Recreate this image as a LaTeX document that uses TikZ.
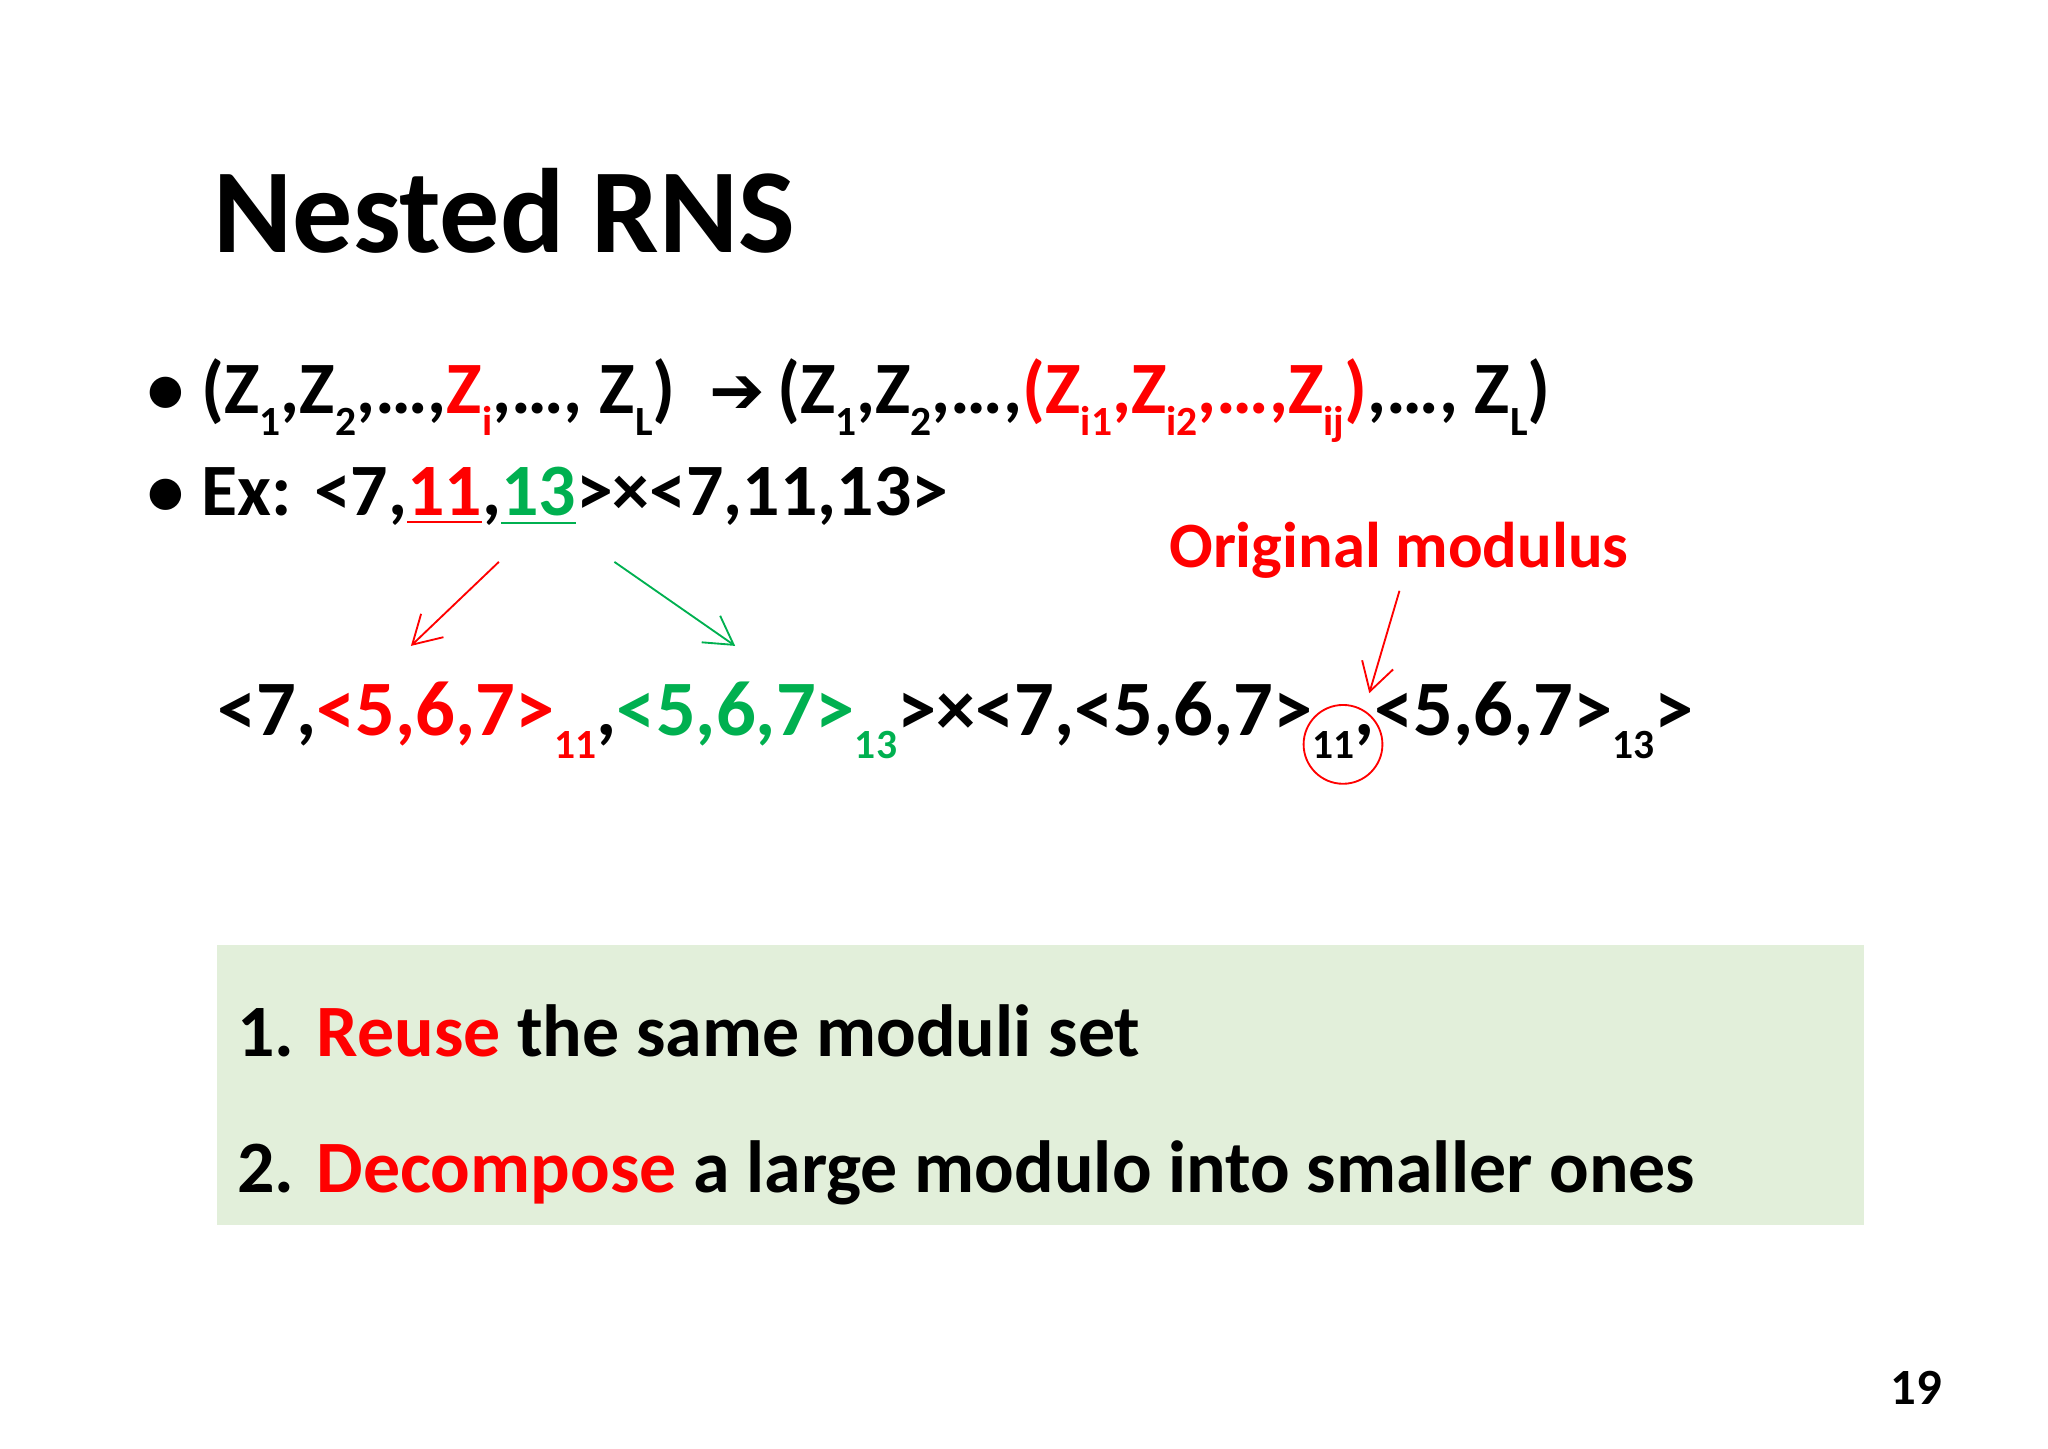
\documentclass[tikz,border=0pt]{standalone}
\usepackage{fontspec}
\setmainfont{Carlito}
\newfontfamily\dv{DejaVu Sans}
\usetikzlibrary{arrows.meta}
\definecolor{myred}{RGB}{255,0,0}
\definecolor{mygreen}{RGB}{0,176,80}
\definecolor{boxgreen}{RGB}{226,239,218}
\newcommand\sbs[1]{\raisebox{-0.6ex}{\small #1}}
\begin{document}
\begin{tikzpicture}[x=0.01cm,y=-0.01cm,
  txt/.style={anchor=base west,inner sep=0pt,font=\fontsize{16}{19}\selectfont\bfseries},
  big/.style={anchor=base west,inner sep=0pt,font=\fontsize{17}{21}\selectfont\bfseries},
  arr/.style={-{Straight Barb[length=6pt,width=7pt]}}]
\useasboundingbox (0,0) rectangle (1560,1103);
\fill[boxgreen] (165,720) rectangle (1420,933);
\node[anchor=base west,inner sep=0pt,font=\fontsize{26}{30}\selectfont\bfseries] (title) at (162,192) {Nested RNS};
\node[txt] (b1) at (112,315) {\textbullet\ (Z\sbs{1},Z\sbs{2},…,\textcolor{myred}{Z\sbs{i}},…, Z\sbs{L})\ \ {\dv\bfseries\Large ➔}\,(Z\sbs{1},Z\sbs{2},…,\textcolor{myred}{(Z\sbs{i1},Z\sbs{i2},…,Z\sbs{ij})},…, Z\sbs{L})};
\node[txt] (b2) at (112,393) {\textbullet\ Ex: <7,\textcolor{myred}{\underline{11}},\textcolor{mygreen}{\underline{13}}>×<7,11,13>};
\node[txt,text=myred,font=\fontsize{14}{17}\selectfont\bfseries] (om) at (890,432) {Original modulus};
\node[big] (l2) at (165,560) {<7,\textcolor{myred}{<5,6,7>\sbs{11}},\textcolor{mygreen}{<5,6,7>\sbs{13}}>×<7,<5,6,7>\sbs{11},<5,6,7>\sbs{13}>};
\coordinate (ra) at (380,428); \coordinate (rb) at (313,492);
\coordinate (ga) at (468,428); \coordinate (gb) at (560,492);
\coordinate (oa) at (1066,450); \coordinate (ob) at (1043,528);
\draw[myred,arr] (ra) -- (rb);
\draw[mygreen,arr] (ga) -- (gb);
\draw[myred,arr] (oa) -- (ob);
\node[draw=myred,circle,minimum size=0.6cm,inner sep=0pt] (circ) at (1023,567) {};
\node[txt] (i1) at (180,805) {1. \textcolor{myred}{Reuse} the same moduli set};
\node[txt] (i2) at (180,908) {2. \textcolor{myred}{Decompose} a large modulo into smaller ones};
\node[anchor=base east,inner sep=0pt,font=\fontsize{11}{13}\selectfont\bfseries] (pg) at (1480,1070) {19};
\end{tikzpicture}
\end{document}
